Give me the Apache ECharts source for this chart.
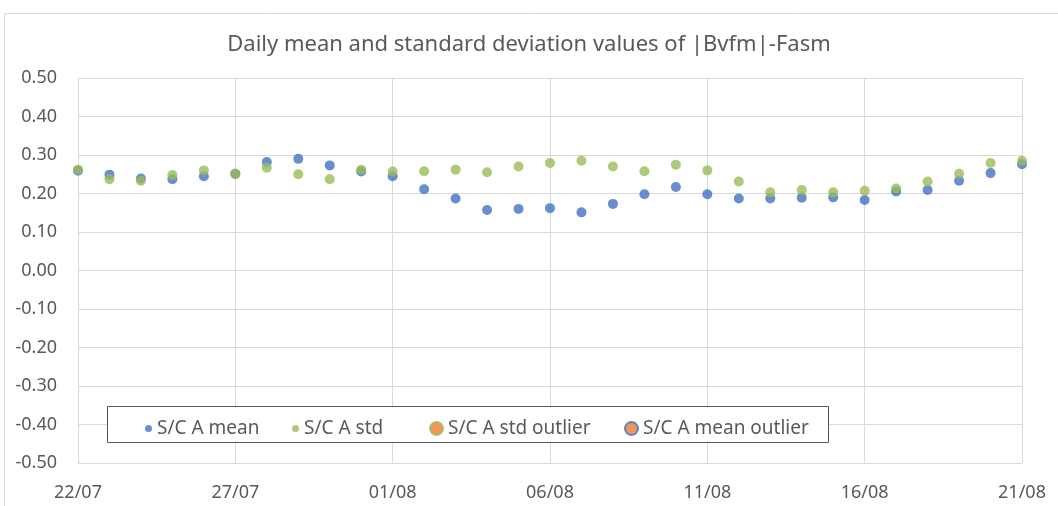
<!DOCTYPE html>
<html>
<head>
<meta charset="utf-8">
<script src="https://cdn.jsdelivr.net/npm/echarts@6/dist/echarts.min.js"></script>
<style>html,body{margin:0;padding:0;background:#fff;}#c{width:1058px;height:506px;}</style>
</head>
<body>
<div id="c"></div>
<script>
const dates = ['22/07','23/07','24/07','25/07','26/07','27/07','28/07','29/07','30/07','31/07',
  '01/08','02/08','03/08','04/08','05/08','06/08','07/08','08/08','09/08','10/08',
  '11/08','12/08','13/08','14/08','15/08','16/08','17/08','18/08','19/08','20/08','21/08'];
const meanValues = [0.259,0.249,0.239,0.237,0.245,0.251,0.282,0.290,0.273,0.257,
  0.245,0.211,0.187,0.157,0.160,0.162,0.151,0.173,0.198,0.217,
  0.198,0.187,0.187,0.189,0.190,0.183,0.205,0.209,0.233,0.253,0.276];
const stdValues = [0.262,0.237,0.233,0.248,0.260,0.251,0.267,0.250,0.237,0.262,
  0.257,0.258,0.262,0.255,0.270,0.279,0.285,0.270,0.258,0.275,
  0.260,0.231,0.203,0.209,0.203,0.207,0.213,0.231,0.251,0.279,0.285];
const stdOutlier = [];
const meanOutlier = [];
const seriesNames = ['S/C A mean','S/C A std','S/C A std outlier','S/C A mean outlier'];
const yTicks = {min:-0.5, max:0.5, step:0.1};

const FONT = 'Noto Sans';
const TXT = '#595959';
const chart = echarts.init(document.getElementById('c'));
const legendCommon = {orient:'horizontal', top:414, itemGap:0, textStyle:{fontFamily:FONT, fontSize:19, color:TXT, padding:[0,0,0,0]}, selectedMode:false};
chart.setOption({
  animation:false,
  title:{text:'Daily mean and standard deviation values of |Bvfm|-Fasm', left:'center', top:29,
    textStyle:{fontFamily:FONT, fontSize:22, fontWeight:'normal', color:TXT}},
  graphic:[
    {type:'rect', shape:{x:4.5,y:13.5,width:1100,height:600}, style:{fill:null, stroke:'#d9d9d9', lineWidth:1}, silent:true},
    {type:'rect', shape:{x:107.5,y:406.5,width:721,height:36}, style:{fill:'#fff', stroke:'#595959', lineWidth:1}, silent:true, z:5}
  ],
  legend:[
    Object.assign({}, legendCommon, {data:[seriesNames[0]], left:140, itemWidth:7, itemHeight:7, z:10}),
    Object.assign({}, legendCommon, {data:[seriesNames[1]], left:287, itemWidth:7, itemHeight:7, z:10}),
    Object.assign({}, legendCommon, {data:[seriesNames[2]], left:424, itemWidth:13, itemHeight:13, z:10}),
    Object.assign({}, legendCommon, {data:[seriesNames[3]], left:619, itemWidth:13, itemHeight:13, z:10})
  ],
  grid:{left:78, right:36, top:78, bottom:43},
  xAxis:{type:'category', data:dates, boundaryGap:false,
    axisLine:{show:true, lineStyle:{color:'#d9d9d9'}}, axisTick:{show:false},
    axisLabel:{interval:4, color:TXT, fontFamily:FONT, fontSize:18, margin:21, showMaxLabel:true},
    splitLine:{show:true, interval:4, lineStyle:{color:'#d9d9d9'}}},
  yAxis:{type:'value', min:yTicks.min, max:yTicks.max, interval:yTicks.step,
    axisLine:{show:false}, axisTick:{show:false},
    axisLabel:{color:TXT, fontFamily:FONT, fontSize:18, margin:21, formatter:v=>v.toFixed(2)},
    splitLine:{lineStyle:{color:'#d9d9d9'}}},
  series:[
    {name:seriesNames[0], type:'scatter', data:meanValues, symbolSize:10, itemStyle:{color:'#4472C4'}},
    {name:seriesNames[1], type:'scatter', data:stdValues, symbolSize:10, itemStyle:{color:'#9BBB59'}},
    {name:seriesNames[2], type:'scatter', data:stdOutlier, symbolSize:10, itemStyle:{color:'#ED7D31', borderColor:'#9BBB59', borderWidth:3}},
    {name:seriesNames[3], type:'scatter', data:meanOutlier, symbolSize:10, itemStyle:{color:'#ED7D31', borderColor:'#4472C4', borderWidth:3}}
  ]
});
</script>
</body>
</html>
